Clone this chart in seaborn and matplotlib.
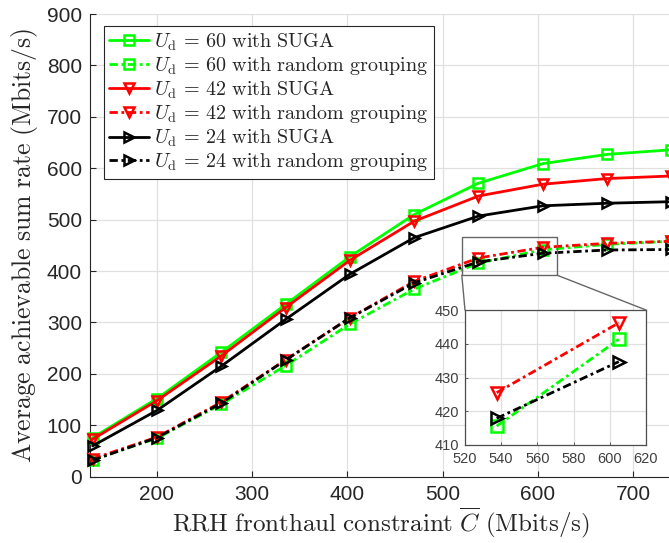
import matplotlib
matplotlib.use("Agg")
import matplotlib.pyplot as plt
import seaborn as sns
from matplotlib.patches import Rectangle, ConnectionPatch

# ── Data ─────────────────────────────────────────────────────────────────────
fronthaul = [132.5, 200, 267.5, 335, 402.5, 470, 537.5, 605, 672.5, 740]

suga_60 = [76, 152, 242, 335, 428, 510, 571, 609, 627, 636]
rand_60 = [33, 75, 141, 216, 297, 365, 415.6, 441.3, 452, 458]
suga_42 = [73, 148, 235, 329, 421, 497, 546, 569, 580, 585]
rand_42 = [35, 77, 145, 227, 309, 380, 425.5, 446.2, 454, 458]
suga_24 = [60, 129, 215, 306, 394, 465, 507, 527, 532, 535]
rand_24 = [32, 76, 143, 227, 309, 377, 417.9, 434.7, 441, 442]

series_labels = [
    r"$U_{\mathrm{d}}\,=\,60\ \mathrm{with\ SUGA}$",
    r"$U_{\mathrm{d}}\,=\,60\ \mathrm{with\ random\ grouping}$",
    r"$U_{\mathrm{d}}\,=\,42\ \mathrm{with\ SUGA}$",
    r"$U_{\mathrm{d}}\,=\,42\ \mathrm{with\ random\ grouping}$",
    r"$U_{\mathrm{d}}\,=\,24\ \mathrm{with\ SUGA}$",
    r"$U_{\mathrm{d}}\,=\,24\ \mathrm{with\ random\ grouping}$",
]
x_ticks = [200, 300, 400, 500, 600, 700]
y_ticks = [0, 100, 200, 300, 400, 500, 600, 700, 800, 900]
inset_x_ticks = [520, 540, 560, 580, 600, 620]
inset_y_ticks = [410, 420, 430, 440, 450]
inset_idx = [6, 7]   # the two points shown magnified

# ── Style ────────────────────────────────────────────────────────────────────
sns.set_style("ticks")
plt.rcParams["font.family"] = ["Liberation Sans", "DejaVu Sans"]
plt.rcParams["mathtext.fontset"] = "cm"

dark = (0.15, 0.15, 0.15)
grid_c = (0.88, 0.88, 0.88)
dashdot = (3, 1.3, 1, 1.3)

series = [
    (suga_60, "#00ff00", "s", "-"),
    (rand_60, "#00ff00", "s", "-."),
    (suga_42, "#ff0000", "v", "-"),
    (rand_42, "#ff0000", "v", "-."),
    (suga_24, "#000000", ">", "-"),
    (rand_24, "#000000", ">", "-."),
]

fig = plt.figure(figsize=(6.69, 5.43), dpi=100)
ax = fig.add_axes([0.135, 0.1221, 0.8685, 0.852])

for (vals, col, mk, ls), lab in zip(series, series_labels):
    line_kw = dict(linestyle="-") if ls == "-" else dict(dashes=dashdot)
    sns.lineplot(x=fronthaul, y=vals, ax=ax, color=col, marker=mk,
                 markersize=7, markerfacecolor="none", markeredgecolor=col,
                 markeredgewidth=1.8, linewidth=2.0, label=lab,
                 clip_on=False, zorder=3, **line_kw)

ax.set_xlim(130, 740)
ax.set_ylim(0, 900)
ax.set_xticks(x_ticks)
ax.set_yticks(y_ticks)
ax.grid(True, color=grid_c, linewidth=0.9)
ax.set_axisbelow(True)
ax.tick_params(direction="in", length=4, width=0.8, colors=dark,
               labelsize=15, pad=6)
for side in ["top", "right"]:
    ax.spines[side].set_visible(False)
for side in ["left", "bottom"]:
    ax.spines[side].set_color(dark)
    ax.spines[side].set_linewidth(0.8)

ax.set_xlabel(r"$\mathrm{RRH\ fronthaul\ constraint\ }\overline{C}\ \mathrm{(Mbits/s)}$",
              fontsize=18, color=dark, labelpad=1)
ax.set_ylabel(r"$\mathrm{Average\ achievable\ sum\ rate\ (Mbits/s)}$",
              fontsize=18.5, color=dark, labelpad=5)

leg = ax.legend(loc="upper left", bbox_to_anchor=(0.0236, 0.974),
                borderaxespad=0, fontsize=14.5, frameon=True, fancybox=False,
                framealpha=1, edgecolor=dark, handlelength=2.0,
                handletextpad=0.25, labelspacing=0.12, borderpad=0.25)
leg.get_frame().set_linewidth(0.8)

# ── Zoom box + inset ─────────────────────────────────────────────────────────
ax.add_patch(Rectangle((520, 392), 100, 74, fill=False,
                       edgecolor=(0.4, 0.4, 0.4), linewidth=1, zorder=5))

axin = fig.add_axes([465 / 669, (543 - 445) / 543, 181 / 669, 135 / 543])
for (vals, col, mk, ls), lab in zip(series, series_labels):
    if ls != "-.":
        continue
    sns.lineplot(x=[fronthaul[i] for i in inset_idx],
                 y=[vals[i] for i in inset_idx], ax=axin, color=col,
                 marker=mk, markersize=9, markerfacecolor="none",
                 markeredgecolor=col, markeredgewidth=1.8, linewidth=2.0,
                 dashes=dashdot, legend=False)
axin.set_xlim(520, 620)
axin.set_ylim(410, 450)
axin.set_xticks(inset_x_ticks)
axin.set_yticks(inset_y_ticks)
axin.set_xlabel("")
axin.set_ylabel("")
axin.grid(True, color=grid_c, linewidth=0.9)
axin.set_axisbelow(True)
axin.tick_params(direction="in", length=2, width=0.6, colors=(0.25, 0.25, 0.25),
                 labelsize=10.5)
axin.tick_params(axis="x", pad=5)
axin.tick_params(axis="y", pad=4)
for sp in axin.spines.values():
    sp.set_visible(True)
    sp.set_color((0.3, 0.3, 0.3))
    sp.set_linewidth(0.9)

for xa, xb in [(520, 0), (620, 1)]:
    con = ConnectionPatch(xyA=(xa, 392), coordsA=ax.transData,
                          xyB=(xb, 1), coordsB=axin.transAxes,
                          color=(0.4, 0.4, 0.4), linewidth=1)
    fig.add_artist(con)

fig.savefig("out.png", dpi=100)
